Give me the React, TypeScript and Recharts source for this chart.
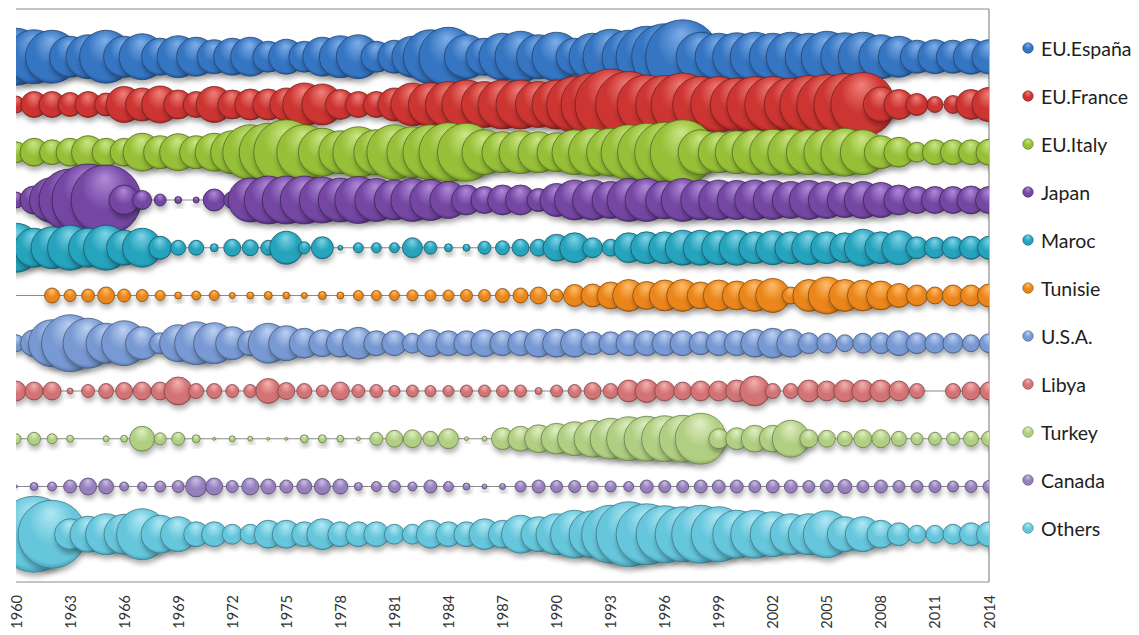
import React from 'react';
import { ScatterChart, Scatter, XAxis, YAxis, ZAxis, CartesianGrid, Legend, ReferenceLine } from 'recharts';

const years = [
  1960, 1961, 1962, 1963, 1964, 1965, 1966, 1967, 1968, 1969,
  1970, 1971, 1972, 1973, 1974, 1975, 1976, 1977, 1978, 1979,
  1980, 1981, 1982, 1983, 1984, 1985, 1986, 1987, 1988, 1989,
  1990, 1991, 1992, 1993, 1994, 1995, 1996, 1997, 1998, 1999,
  2000, 2001, 2002, 2003, 2004, 2005, 2006, 2007, 2008, 2009,
  2010, 2011, 2012, 2013, 2014,
];

const xTicks = [1960, 1963, 1966, 1969, 1972, 1975, 1978, 1981, 1984, 1987, 1990, 1993, 1996, 1999, 2002, 2005, 2008, 2011, 2014];

const seriesNames = ['EU.España', 'EU.France', 'EU.Italy', 'Japan', 'Maroc', 'Tunisie', 'U.S.A.', 'Libya', 'Turkey', 'Canada', 'Others'];
const seriesRows = [11, 10, 9, 8, 7, 6, 5, 4, 3, 2, 1];

const espana = [
  57, 54, 53, 41, 44, 53, 41, 46, 37, 42,
  39, 34, 37, 39, 31, 35, 31, 39, 42, 44,
  31, 33, 41, 54, 59, 44, 37, 47, 51, 44,
  49, 37, 47, 55, 53, 61, 66, 74, 49, 47,
  48, 49, 47, 49, 47, 51, 48, 49, 44, 41,
  33, 34, 33, 35, 34,
];
const france = [
  17, 26, 26, 24, 26, 23, 36, 33, 37, 29,
  26, 36, 29, 31, 31, 33, 43, 41, 30, 26,
  26, 33, 43, 44, 46, 49, 46, 49, 49, 46,
  49, 56, 63, 71, 66, 59, 58, 63, 56, 56,
  53, 56, 56, 53, 58, 60, 62, 64, 35, 30,
  22, 16, 18, 30, 34,
];
const italy = [
  21, 28, 25, 28, 33, 28, 28, 38, 33, 37,
  33, 38, 43, 55, 58, 65, 55, 48, 43, 51,
  45, 55, 51, 55, 59, 58, 45, 41, 43, 41,
  39, 45, 48, 48, 55, 58, 60, 65, 45, 41,
  43, 45, 46, 46, 45, 46, 48, 45, 33, 30,
  20, 25, 25, 25, 26,
];
const japan = [
  16, 28, 45, 62, 72, 70, 30, 19, 12, 7,
  6, 22, 17, 44, 48, 48, 48, 46, 44, 47,
  43, 40, 43, 41, 37, 30, 27, 30, 30, 23,
  33, 40, 40, 37, 43, 43, 38, 43, 40, 40,
  39, 40, 39, 37, 39, 37, 35, 37, 35, 30,
  27, 27, 27, 28, 27,
];
const maroc = [
  49, 39, 42, 45, 39, 45, 35, 39, 23, 15,
  15, 8, 17, 16, 15, 33, 12, 22, 5, 10,
  10, 10, 20, 13, 8, 7, 13, 14, 17, 17,
  27, 30, 20, 17, 30, 32, 32, 35, 35, 34,
  35, 32, 34, 32, 34, 32, 30, 37, 32, 34,
  22, 21, 22, 23, 23,
];
const tunisie = [
  null, null, 15, 12, 13, 17, 13, 12, 10, 7,
  9, 10, 6, 7, 8, 7, 6, 8, 7, 10,
  10, 10, 11, 11, 11, 12, 12, 14, 15, 17,
  13, 22, 23, 27, 32, 28, 31, 32, 27, 31,
  29, 32, 34, 17, 32, 37, 32, 31, 29, 24,
  21, 17, 21, 21, 23,
];
const usa = [
  17, 27, 47, 57, 50, 40, 45, 33, 21, 37,
  43, 41, 33, 25, 40, 35, 30, 27, 28, 32,
  25, 25, 20, 27, 25, 25, 27, 25, 25, 28,
  28, 28, 23, 23, 25, 25, 25, 25, 23, 25,
  25, 28, 30, 28, 21, 20, 17, 20, 21, 25,
  21, 20, 20, 17, 19,
];
const libya = [
  20, 18, 18, 6, 13, 15, 17, 18, 18, 28,
  15, 15, 13, 13, 25, 17, 15, 12, 18, 13,
  13, 11, 12, 11, 11, 12, 12, 12, 12, 7,
  12, 13, 17, 15, 22, 23, 20, 18, 20, 20,
  22, 30, 15, 15, 22, 20, 22, 22, 22, 20,
  15, null, 15, 18, 18,
];
const turkey = [
  10, 13, 10, 7, null, 6, 7, 25, 12, 13,
  8, 3, 6, 5, 3, 3, 8, 8, 7, 4,
  13, 17, 18, 15, 20, 4, 5, 22, 25, 28,
  31, 34, 37, 41, 44, 45, 46, 47, 51, 20,
  22, 27, 27, 37, 18, 17, 15, 18, 18, 15,
  12, 13, 13, 15, 15,
];
const canada = [
  3, 8, 9, 13, 17, 15, 9, 9, 11, 12,
  21, 17, 12, 17, 15, 13, 15, 16, 15, 8,
  10, 12, 9, 13, 10, 7, 5, 6, 11, 13,
  12, 12, 11, 11, 10, 13, 12, 12, 13, 13,
  13, 12, 13, 13, 12, 13, 14, 12, 13, 12,
  12, 12, 11, 12, 12,
];
const others = [
  52, 76, 68, 31, 36, 41, 40, 51, 38, 35,
  25, 25, 20, 20, 28, 28, 25, 31, 25, 25,
  25, 20, 20, 28, 25, 25, 31, 28, 38, 35,
  41, 48, 47, 58, 65, 61, 57, 55, 58, 55,
  48, 48, 45, 41, 41, 47, 35, 35, 28, 23,
  18, 18, 20, 23, 25,
];

const seriesValues = [espana, france, italy, japan, maroc, tunisie, usa, libya, turkey, canada, others];

const palette = [
  { light: '#7eaee8', base: '#3675c2', dark: '#1b4682', stroke: '#1f426d' },
  { light: '#f0807a', base: '#cc3431', dark: '#891b19', stroke: '#6f1f1d' },
  { light: '#cce685', base: '#97bf38', dark: '#62831d', stroke: '#4f6820' },
  { light: '#b08ad8', base: '#7447a3', dark: '#45246e', stroke: '#3a2355' },
  { light: '#7fd4e6', base: '#25a3bd', dark: '#106b80', stroke: '#175563' },
  { light: '#ffbd6c', base: '#eb861a', dark: '#a95604', stroke: '#7f4a0c' },
  { light: '#bdd1f1', base: '#7899d3', dark: '#4b6999', stroke: '#435777' },
  { light: '#f2b2b2', base: '#d47375', dark: '#984a4c', stroke: '#7b4345' },
  { light: '#e1efc4', base: '#b1cf83', dark: '#7f9d52', stroke: '#657b47' },
  { light: '#ccc0e3', base: '#957fbd', dark: '#66528b', stroke: '#53476b' },
  { light: '#b1e8f4', base: '#66c6dc', dark: '#3790a5', stroke: '#387584' },
];

const buildSeries = (idx: number) =>
  years
    .map((year, i) => ({ year, row: seriesRows[idx], d: seriesValues[idx][i] }))
    .filter((p) => p.d !== null && p.d !== undefined);

const makeBubble = (idx: number) => (props: any) => {
  const { cx, cy } = props;
  const r = props.size;
  if (cx == null || cy == null || !r) return <g />;
  return (
    <circle
      cx={cx}
      cy={cy}
      r={r}
      fill={`url(#bg${idx})`}
      stroke={palette[idx].stroke}
      strokeOpacity={0.85}
      strokeWidth={0.9}
      filter="url(#bshadow)"
    />
  );
};

const YearTick = (props: any) => {
  const { x, y, payload } = props;
  const ty = y + 13;
  return (
    <text
      x={x}
      y={ty}
      transform={`rotate(-90 ${x} ${ty})`}
      textAnchor="end"
      dominantBaseline="central"
      fontFamily="Lato, 'Open Sans', sans-serif"
      fontSize={14.5}
      fill="#333333"
    >
      {payload.value}
    </text>
  );
};

const renderLegend = () => (
  <div style={{ position: 'relative', width: 150, height: 560 }}>
    {seriesNames.map((name, i) => (
      <div
        key={name}
        style={{
          position: 'absolute',
          left: 33,
          top: 48 + i * 48 - 13,
          height: 26,
          display: 'flex',
          alignItems: 'center',
          whiteSpace: 'nowrap',
        }}
      >
        <svg width={12} height={12} style={{ marginRight: 7, overflow: 'visible' }}>
          <circle cx={6} cy={6} r={5.3} fill={`url(#bg${i})`} stroke={palette[i].stroke} strokeOpacity={0.8} strokeWidth={0.6} />
        </svg>
        <span style={{ fontFamily: "Lato, 'Open Sans', sans-serif", fontSize: 19.5, color: '#1e1e1e' }}>{name}</span>
      </div>
    ))}
  </div>
);

export default function App() {
  return (
    <div style={{ position: 'absolute', left: 0, top: 0, width: 1139, height: 635, background: '#fff' }}>
      <ScatterChart width={1139} height={635} margin={{ top: 9, right: 0, bottom: 8, left: 16 }}>
        <defs>
          {palette.map((c, i) => (
            <radialGradient key={i} id={`bg${i}`} cx="50%" cy="42%" r="62%" fx="48%" fy="18%">
              <stop offset="0%" stopColor={c.light} />
              <stop offset="55%" stopColor={c.base} />
              <stop offset="86%" stopColor={c.base} />
              <stop offset="100%" stopColor={c.dark} />
            </radialGradient>
          ))}
          <filter id="bshadow" x="-50%" y="-50%" width="200%" height="220%">
            <feDropShadow dx="1" dy="4" stdDeviation="2.5" floodColor="#000" floodOpacity="0.3" />
          </filter>
        </defs>
        <CartesianGrid
          vertical={false}
          horizontalValues={[1, 2, 3, 4, 5, 6, 7, 8, 9, 10, 11, 12]}
          stroke="#8c8c8c"
          strokeWidth={1}
        />
        <XAxis
          type="number"
          dataKey="year"
          domain={[1960, 2014]}
          ticks={xTicks}
          allowDataOverflow
          interval={0}
          axisLine={{ stroke: '#8c8c8c', strokeWidth: 1.2 }}
          tickLine={false}
          tickSize={0}
          tickMargin={0}
          height={45}
          tick={<YearTick />}
        />
        <YAxis type="number" dataKey="row" domain={[0, 12]} ticks={[1, 2, 3, 4, 5, 6, 7, 8, 9, 10, 11, 12]} hide allowDataOverflow />
        <ZAxis type="number" dataKey="d" domain={[0, 80]} range={[0, 40]} />
        <Legend
          layout="vertical"
          align="right"
          verticalAlign="top"
          width={150}
          height={560}
          wrapperStyle={{ top: 0, right: 0 }}
          content={renderLegend}
        />
        {seriesNames.map((name, i) => (
          <Scatter
            key={name}
            name={name}
            data={buildSeries(i)}
            fill={palette[i].base}
            shape={makeBubble(i)}
            isAnimationActive={false}
          />
        ))}
        <ReferenceLine x={2014} stroke="#8c8c8c" strokeWidth={1.2} ifOverflow="visible" />
      </ScatterChart>
    </div>
  );
}
